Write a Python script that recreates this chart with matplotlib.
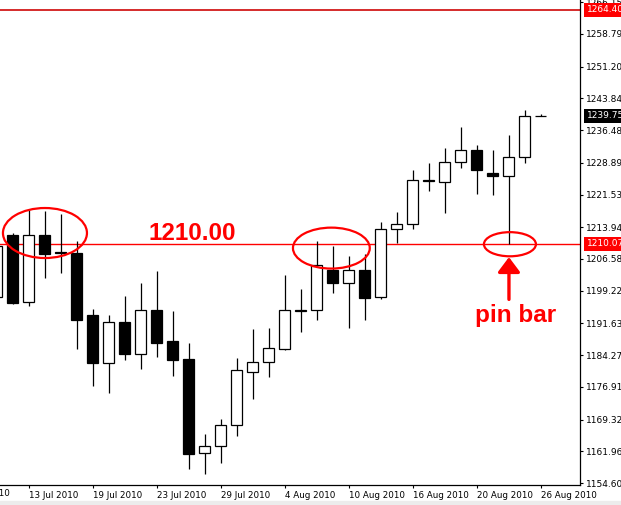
import numpy as np
import matplotlib
matplotlib.use("Agg")
import matplotlib.pyplot as plt
from matplotlib.patches import Ellipse, Rectangle
from matplotlib.transforms import blended_transform_factory

# daily candles, 9 Jul 2010 .. 26 Aug 2010
dates = ["9 Jul", "12 Jul", "13 Jul", "14 Jul", "15 Jul", "16 Jul", "19 Jul", "20 Jul",
         "21 Jul", "22 Jul", "23 Jul", "26 Jul", "27 Jul", "28 Jul", "29 Jul", "30 Jul",
         "2 Aug", "3 Aug", "4 Aug", "5 Aug", "6 Aug", "9 Aug", "10 Aug", "11 Aug",
         "12 Aug", "13 Aug", "16 Aug", "17 Aug", "18 Aug", "19 Aug", "20 Aug", "23 Aug",
         "24 Aug", "25 Aug", "26 Aug"]
opens = [1197.7, 1212.1, 1196.6, 1212.1, 1208.2, 1208.0, 1193.6, 1182.4,
         1192.0, 1184.5, 1194.7, 1187.5, 1183.4, 1161.6, 1163.2, 1168.1,
         1180.4, 1182.7, 1185.7, 1194.6, 1194.7, 1204.0, 1201.0, 1204.0,
         1197.8, 1213.5, 1214.7, 1224.9, 1224.4, 1229.1, 1231.9, 1226.5,
         1225.8, 1230.2, 1239.7]
highs = [1211.5, 1212.6, 1217.9, 1217.7, 1217.0, 1210.7, 1195.0, 1193.6,
         1198.0, 1201.0, 1203.8, 1194.5, 1187.1, 1166.0, 1169.4, 1183.6,
         1190.3, 1190.6, 1202.9, 1199.6, 1210.7, 1209.6, 1207.3, 1207.7,
         1215.2, 1217.5, 1227.2, 1228.8, 1232.3, 1237.2, 1233.0, 1231.9,
         1235.3, 1241.1, 1240.2]
lows = [1195.0, 1196.1, 1195.7, 1202.2, 1203.3, 1185.7, 1177.1, 1175.5,
        1183.1, 1181.0, 1183.8, 1179.4, 1157.9, 1156.7, 1159.2, 1165.5,
        1174.1, 1179.2, 1185.5, 1189.6, 1192.4, 1198.7, 1190.6, 1192.4,
        1197.3, 1210.3, 1213.5, 1222.3, 1217.2, 1227.7, 1221.6, 1221.4,
        1210.0, 1228.8, 1239.7]
closes = [1209.6, 1196.4, 1212.1, 1207.7, 1207.9, 1192.4, 1182.4, 1191.9,
          1184.5, 1194.7, 1187.1, 1183.1, 1161.3, 1163.2, 1168.1, 1180.8,
          1182.7, 1185.9, 1194.7, 1194.8, 1205.2, 1201.0, 1204.0, 1197.5,
          1213.5, 1214.7, 1224.9, 1224.6, 1229.1, 1231.9, 1227.2, 1225.8,
          1230.2, 1239.7, 1239.75]

date_labels = ["7 Jul 2010", "13 Jul 2010", "19 Jul 2010", "23 Jul 2010", "29 Jul 2010",
               "4 Aug 2010", "10 Aug 2010", "16 Aug 2010", "20 Aug 2010", "26 Aug 2010"]
price_ticks = [1266.15, 1258.79, 1251.20, 1243.84, 1236.48, 1228.89, 1221.53, 1213.94,
               1206.58, 1199.22, 1191.63, 1184.27, 1176.91, 1169.32, 1161.96, 1154.60]
level = 1210.07
top_level = 1264.40
last_price = 1239.75

o = np.array(opens)
h = np.array(highs)
l = np.array(lows)
c = np.array(closes)
x = np.arange(len(o))

fig = plt.figure(figsize=(6.21, 5.05), dpi=100)
fig.patches.append(Rectangle((0, 0), 1, 4 / 505, transform=fig.transFigure,
                             color="#ececec", zorder=0))
ax = fig.add_axes([0, 20 / 505, 580 / 621, 485 / 505])

# wicks then bodies
ax.vlines(x, l, h, color="black", lw=0.9, zorder=2)
up = c >= o
body_lo = np.minimum(o, c)
body_h = np.maximum(np.abs(c - o), 0.05)
ax.bar(x[up], body_h[up], bottom=body_lo[up], width=0.69,
       color="white", edgecolor="black", lw=0.9, zorder=3)
ax.bar(x[~up], body_h[~up], bottom=body_lo[~up], width=0.69,
       color="black", edgecolor="black", lw=0.9, zorder=3)

ax.axhline(level, color="red", lw=1.0, zorder=1)
ax.axhline(top_level, color="#d21a1a", lw=1.3, zorder=1)

# annotations
for cx, cy, w, hh in [(3.0, 1212.6, 5.25, 11.6), (20.9, 1209.1, 4.8, 9.5), (32.06, 1210.0, 3.25, 5.6)]:
    ax.add_patch(Ellipse((cx, cy), w, hh, fill=False, edgecolor="red", lw=1.6, zorder=4))
ax.text(9.45, 1212.6, "1210.00", color="red", fontsize=17.5, fontweight="bold",
        family="Liberation Sans", ha="left", va="center", zorder=5)
ax.annotate("", xy=(32, 1207.0), xytext=(32, 1197.2),
            arrowprops=dict(arrowstyle="-|>,head_length=0.6,head_width=0.45",
                            color="red", lw=2.4, mutation_scale=15, shrinkA=0, shrinkB=0),
            zorder=5)
ax.text(32.4, 1192.0, "pin bar", color="red", fontsize=17.5, fontweight="bold",
        family="Liberation Sans", ha="center", va="baseline", zorder=5)

for s in ["top", "left"]:
    ax.spines[s].set_visible(False)
ax.spines["right"].set_linewidth(0.9)
ax.spines["bottom"].set_linewidth(0.9)

tick_pos = np.arange(-2, 35, 4)
ax.set_xticks(tick_pos)
ax.set_xticklabels(date_labels, ha="left", fontsize=6.3)
ax.tick_params(axis="x", length=2.5, width=0.8, pad=1.5)

# first label lies left of the view; draw it so its tail shows at the edge
bt = blended_transform_factory(ax.transData, ax.transAxes)
ax.text(tick_pos[0] + 0.05, -0.0085, date_labels[0], transform=bt, fontsize=6.3,
        ha="left", va="top", clip_on=False)

ax.yaxis.tick_right()
ax.set_yticks(price_ticks)
ax.set_yticklabels(["%.2f" % v for v in price_ticks], fontsize=6.5)
ax.tick_params(axis="y", length=2.5, width=0.8, pad=2)

# limits after ticks so set_xticks does not widen the view
ax.set_xlim(0.19, 36.44)
ax.set_ylim(1154.14, 1266.66)

trans = ax.get_yaxis_transform()
for val, bg in [(top_level, "red"), (level, "red"), (last_price, "black")]:
    ax.text(1.012, val, "%.2f" % val, transform=trans, fontsize=6.5, color="white",
            ha="left", va="center", clip_on=False, zorder=6,
            bbox=dict(boxstyle="square,pad=0.3", fc=bg, ec="none"))

fig.savefig("out.png", dpi=100)
